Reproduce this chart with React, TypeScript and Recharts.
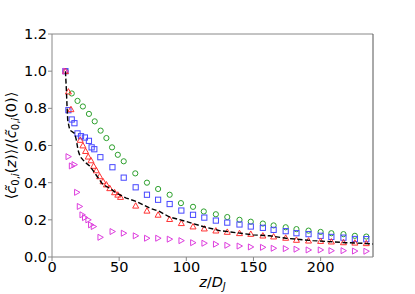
import React from "react";
import {
  ScatterChart, Scatter, XAxis, YAxis, ReferenceLine,
} from "recharts";

// green circles
const zCircle = [10, 14.7, 19, 23, 27.5, 31.8, 36.2, 40.5, 44.7, 49, 53.4, 62, 70.7, 79, 87.6, 96, 105, 113, 122, 130.5, 139.6, 148, 157, 165, 174, 182, 191, 200, 208, 217, 225.5, 234];
const vCircle = [1.0, 0.88, 0.84, 0.81, 0.77, 0.73, 0.68, 0.64, 0.59, 0.55, 0.515, 0.45, 0.40, 0.366, 0.335, 0.29, 0.27, 0.245, 0.23, 0.215, 0.2, 0.19, 0.18, 0.17, 0.16, 0.15, 0.142, 0.135, 0.128, 0.123, 0.114, 0.11];

// blue squares
const zSquare = [10, 12.2, 14.7, 16.7, 19, 21.6, 24.5, 27.5, 29.5, 31.5, 36, 45, 53.4, 62.3, 70.7, 79, 87.6, 96.3, 105, 113.4, 122, 130.5, 139.6, 148, 157, 165, 174, 182, 191, 200, 208, 217, 225.5, 234];
const vSquare = [1.0, 0.79, 0.74, 0.72, 0.665, 0.65, 0.643, 0.625, 0.59, 0.58, 0.537, 0.483, 0.427, 0.375, 0.335, 0.308, 0.285, 0.25, 0.227, 0.212, 0.196, 0.185, 0.175, 0.164, 0.157, 0.146, 0.139, 0.128, 0.123, 0.114, 0.108, 0.104, 0.097, 0.096];

// red up-triangles
const zTri = [10, 12.2, 14.1, 21, 23, 25, 27, 29, 31, 33, 35.5, 38, 40.5, 43, 46.6, 49, 51, 62.3, 70.7, 79, 87.6, 96.3, 105, 113.4, 122, 130.5, 139.6, 148, 157, 165, 174, 182, 191, 200, 208, 217, 225.5, 234];
const vTri = [1.0, 0.89, 0.795, 0.63, 0.60, 0.57, 0.54, 0.52, 0.49, 0.466, 0.434, 0.407, 0.39, 0.37, 0.348, 0.335, 0.323, 0.276, 0.249, 0.227, 0.204, 0.182, 0.164, 0.153, 0.142, 0.135, 0.128, 0.124, 0.115, 0.11, 0.103, 0.092, 0.088, 0.086, 0.083, 0.079, 0.077, 0.074];

// magenta right-triangles
const zRight = [10, 12.2, 14.7, 16.7, 18.6, 20.6, 22.6, 24.5, 27, 29, 31, 36, 45, 53.4, 62.3, 70.7, 79, 87.6, 96.3, 105, 113.4, 122, 130.5, 139.6, 148, 157, 165, 174, 182, 191, 200, 208, 217, 225.5, 234];
const vRight = [1.0, 0.54, 0.49, 0.497, 0.348, 0.272, 0.227, 0.212, 0.2, 0.173, 0.164, 0.106, 0.137, 0.128, 0.114, 0.101, 0.101, 0.096, 0.088, 0.077, 0.074, 0.069, 0.063, 0.059, 0.054, 0.052, 0.047, 0.045, 0.042, 0.038, 0.038, 0.034, 0.034, 0.032, 0.031];

// dashed black curve
const zLine = [10, 10.7, 11.2, 11.7, 13.2, 16.9, 18.1, 19.4, 21, 24.3, 28, 30.5, 33, 38, 43, 48, 55.3, 62.8, 72.7, 80, 87.6, 100, 112.4, 124.8, 137, 149.6, 162, 174.4, 182, 194, 206.6, 219, 231, 239];
const vLine = [1.0, 0.9, 0.81, 0.737, 0.683, 0.665, 0.63, 0.575, 0.54, 0.512, 0.49, 0.466, 0.44, 0.389, 0.37, 0.344, 0.317, 0.299, 0.263, 0.245, 0.215, 0.191, 0.164, 0.142, 0.131, 0.119, 0.114, 0.101, 0.096, 0.088, 0.083, 0.077, 0.074, 0.07];

const xTicks = [0, 50, 100, 150, 200];
const yTicks = [0, 0.2, 0.4, 0.6, 0.8, 1.0, 1.2];

const pts = (zs: number[], vs: number[]) => zs.map((z, i) => ({ z, v: vs[i] }));

const FONT = "DejaVu Sans";
const GREEN = "#2ca02c";
const BLUE = "#4747ff";
const RED = "#ff3333";
const MAGENTA = "#dd3ddd";

const CircleMark = (p: any) => <circle cx={p.cx} cy={p.cy} r={2.6} fill="none" stroke={GREEN} strokeWidth={1} />;
const SquareMark = (p: any) => <rect x={p.cx - 2.6} y={p.cy - 2.6} width={5.2} height={5.2} fill="none" stroke={BLUE} strokeWidth={1} />;
const TriMark = (p: any) => (
  <polygon points={`${p.cx},${p.cy - 3} ${p.cx - 3},${p.cy + 2.4} ${p.cx + 3},${p.cy + 2.4}`} fill="none" stroke={RED} strokeWidth={1} />
);
const RightMark = (p: any) => (
  <polygon points={`${p.cx + 3},${p.cy} ${p.cx - 2.4},${p.cy - 3} ${p.cx - 2.4},${p.cy + 3}`} fill="none" stroke={MAGENTA} strokeWidth={1} />
);
const NoMark = () => <g />;

const YLabel = (props: any) => {
  const vb = props.viewBox || { x: 0, y: 34, width: 52, height: 223 };
  const cy = vb.y + vb.height / 2;
  return (
    <text transform={`translate(16,${cy}) rotate(-90)`} textAnchor="middle" fontSize={14.5} fontFamily={FONT} fill="#000">
      <tspan>⟨</tspan>
      <tspan fontStyle="italic">c̃</tspan>
      <tspan fontSize={10} dy={3}>0,</tspan>
      <tspan fontSize={10} fontStyle="italic">i</tspan>
      <tspan dy={-3}>(</tspan>
      <tspan fontStyle="italic">z</tspan>
      <tspan>)⟩/⟨</tspan>
      <tspan fontStyle="italic">c̃</tspan>
      <tspan fontSize={10} dy={3}>0,</tspan>
      <tspan fontSize={10} fontStyle="italic">i</tspan>
      <tspan dy={-3}>(0)⟩</tspan>
    </text>
  );
};

const XLabel = (props: any) => {
  const vb = props.viewBox || { x: 52, y: 257, width: 321, height: 37 };
  const cx = vb.x + vb.width / 2;
  return (
    <text x={cx} y={vb.y + 30} textAnchor="middle" fontSize={14.5} fontFamily={FONT} fill="#000">
      <tspan fontStyle="italic">z</tspan>
      <tspan>/</tspan>
      <tspan fontStyle="italic">D</tspan>
      <tspan fontSize={10} fontStyle="italic" dy={3}>J</tspan>
    </text>
  );
};

export default function App() {
  return (
    <div style={{ position: "absolute", left: 0, top: 0, background: "#fff" }}>
      <ScatterChart width={415} height={294} margin={{ top: 34, right: 42, bottom: 0, left: 0 }}>
        <XAxis
          type="number"
          dataKey="z"
          domain={[0, 239]}
          ticks={xTicks}
          allowDataOverflow
          height={37}
          tickSize={4}
          tickMargin={1}
          stroke="#888"
          tick={{ fontSize: 14.5, fill: "#000", fontFamily: FONT }}
          label={<XLabel />}
        />
        <YAxis
          type="number"
          dataKey="v"
          domain={[0, 1.2]}
          ticks={yTicks}
          allowDataOverflow
          width={52}
          tickSize={4}
          tickMargin={1}
          stroke="#888"
          tickFormatter={(t: number) => t.toFixed(1)}
          tick={{ fontSize: 14.5, fill: "#000", fontFamily: FONT }}
          label={<YLabel />}
        />
        <ReferenceLine y={1.2} stroke="#888" strokeWidth={1} />
        <ReferenceLine x={239} stroke="#555" strokeWidth={1} />
        <Scatter data={pts(zCircle, vCircle)} shape={CircleMark} isAnimationActive={false} />
        <Scatter data={pts(zSquare, vSquare)} shape={SquareMark} isAnimationActive={false} />
        <Scatter data={pts(zTri, vTri)} shape={TriMark} isAnimationActive={false} />
        <Scatter data={pts(zRight, vRight)} shape={RightMark} isAnimationActive={false} />
        <Scatter
          data={pts(zLine, vLine)}
          shape={NoMark}
          line={{ stroke: "#000", strokeWidth: 1.4, strokeDasharray: "5 2.5" }}
          isAnimationActive={false}
        />
      </ScatterChart>
    </div>
  );
}
